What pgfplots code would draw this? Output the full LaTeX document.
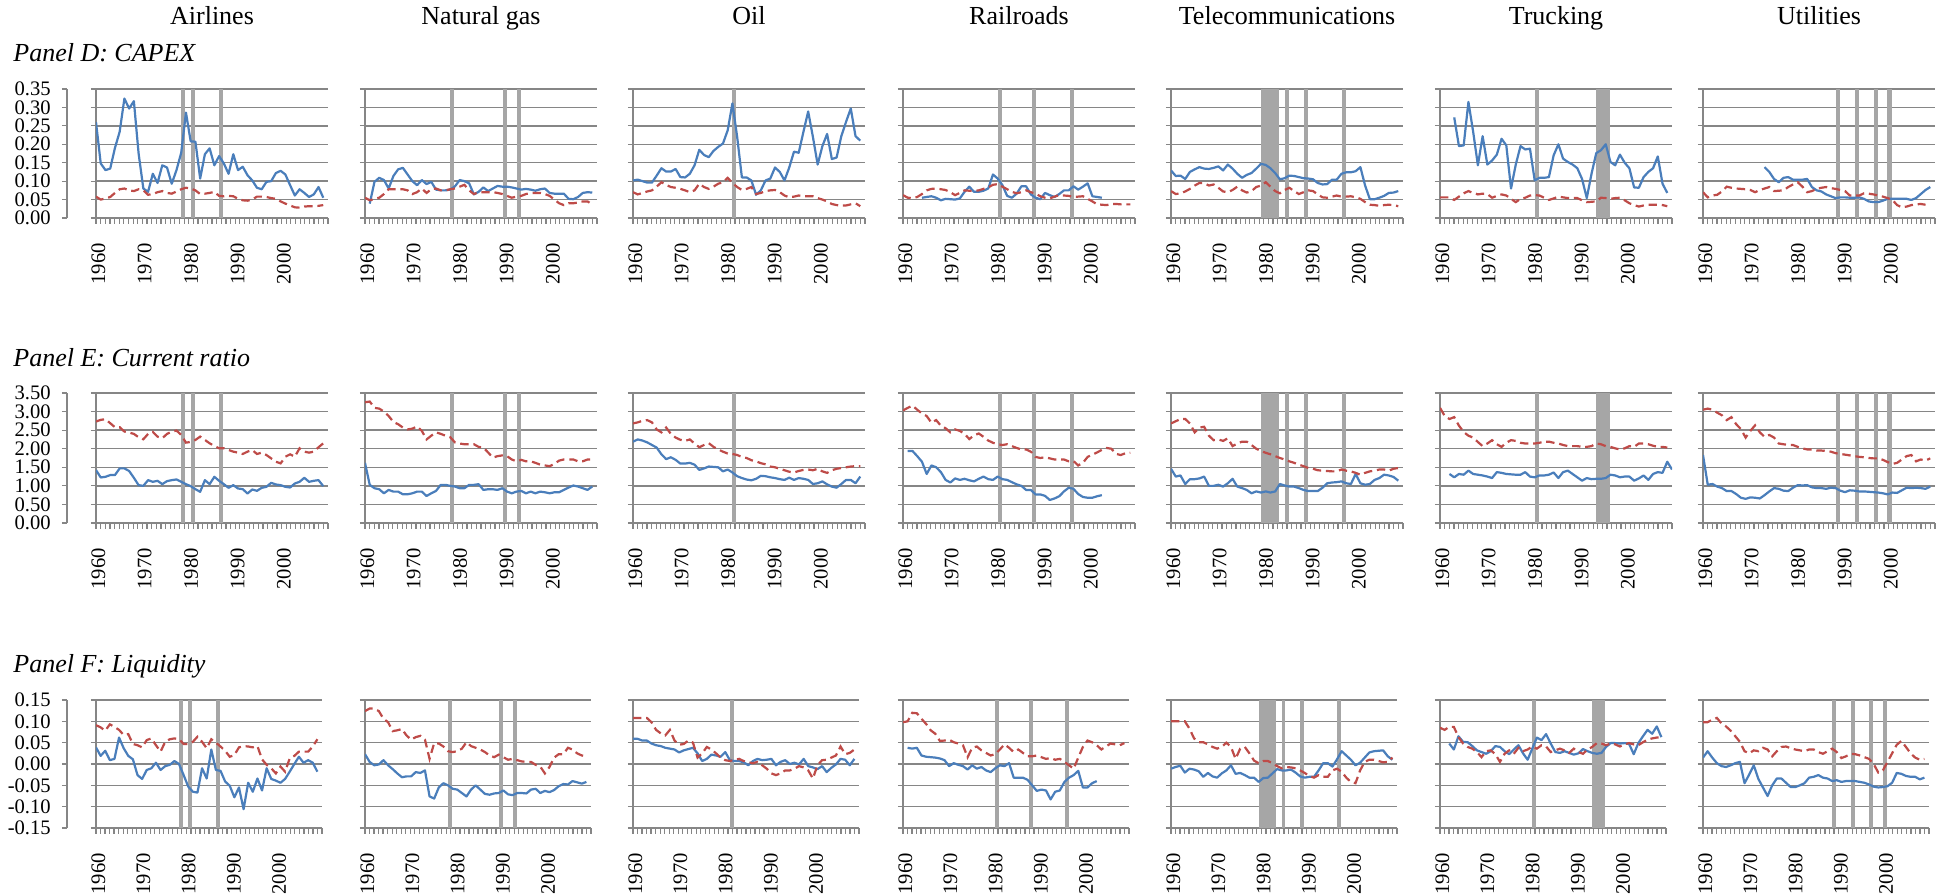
\documentclass[border=0pt]{standalone}
\usepackage{fontspec}
\setmainfont{Liberation Serif}
\usepackage{pgfplots}
\usepackage{pgfplotstable}
\pgfplotsset{compat=1.18}
\definecolor{gridgray}{RGB}{134,134,134}
\definecolor{shadecol}{RGB}{166,166,166}
\definecolor{lineblue}{RGB}{74,126,187}
\definecolor{linered}{RGB}{190,75,72}
\newcommand{\tickfont}{\fontsize{10.3}{12}\selectfont}
\newcommand{\ttlfont}{\fontsize{13}{15}\selectfont}
\newcommand{\ser}[3]{\addplot[#1] table[header=false, x expr=\coordindex+#2, y index=0, row sep=\\]{#3};}
\newcommand{\shd}[4]{\addplot[sh] coordinates {(#1,#3) (#1,#4) (#2,#4) (#2,#3)};}
\pgfplotsset{
 base/.style={
  scale only axis, width=116pt, xmin=1960, xmax=2009, anchor=south west,
  axis x line*=bottom, axis y line*=left,
  axis line style={-, draw=gridgray, line width=0.7pt},
  ymajorgrids, grid style={draw=gridgray, line width=0.7pt},
  xtick={1960.49,1970.29,1980.09,1989.89,1999.69},
  xticklabels={1960,1970,1980,1990,2000},
  minor xtick={1960,1960.98,1961.96,1962.94,1963.92,1964.90,1965.88,1966.86,1967.84,1968.82,1969.80,1970.78,1971.76,1972.74,1973.72,1974.70,1975.68,1976.66,1977.64,1978.62,1979.60,1980.58,1981.56,1982.54,1983.52,1984.50,1985.48,1986.46,1987.44,1988.42,1989.40,1990.38,1991.36,1992.34,1993.32,1994.30,1995.28,1996.26,1997.24,1998.22,1999.20,2000.18,2001.16,2002.14,2003.12,2004.10,2005.08,2006.06,2007.04,2008.02,2009},
  tick align=outside,
  major tick length=2.6pt, minor tick length=2.8pt,
  tick style={draw=gridgray, line width=0.6pt},
  minor tick style={draw=gridgray, line width=0.6pt},
  major x tick style={draw=none},
  xticklabel style={yshift=-6.5pt, rotate=90, anchor=east, font=\tickfont},
  yticklabels={},
 },
 Dax/.style={base, height=64.5pt, ymin=0, ymax=0.35, ytick={0,0.05,0.1,0.15,0.2,0.25,0.3,0.35}},
 Eax/.style={base, height=65pt, ymin=0, ymax=3.5, ytick={0,0.5,1,1.5,2,2.5,3,3.5}},
 Fax/.style={base, width=113pt, height=64pt, ymin=-0.15, ymax=0.15, ytick={-0.15,-0.1,-0.05,0,0.05,0.1,0.15}},
 bl/.style={draw=lineblue, line width=1.1pt, line join=round},
 rd/.style={draw=linered, line width=1.1pt, dash pattern=on 4.2pt off 2.4pt},
 sh/.style={fill=shadecol, draw=none, forget plot},
 lab/.style={scale only axis, width=1pt, xmin=0, xmax=1, anchor=south west, hide x axis, axis y line*=left,
  axis line style={-, draw=gridgray, line width=0.7pt}, tick align=outside, major tick length=2.6pt,
  tick style={draw=gridgray, line width=0.6pt}, yticklabel style={font=\tickfont, xshift=-2pt}},
}
\begin{document}
\begin{tikzpicture}
\useasboundingbox (0,0) rectangle (974pt,447.5pt);
% titles
\foreach \x/\t in {106/Airlines,240.5/Natural gas,374.5/Oil,509.5/Railroads,643.5/Telecommunications,778/Trucking,909.5/Utilities}
  \node[anchor=base, inner sep=0pt, font=\ttlfont] at (\x pt,435pt) {\t};
\node[anchor=base west, inner sep=0pt, font=\ttlfont\itshape] at (6.5pt,416.6pt) {Panel D: CAPEX};
\node[anchor=base west, inner sep=0pt, font=\ttlfont\itshape] at (6.5pt,264.2pt) {Panel E: Current ratio};
\node[anchor=base west, inner sep=0pt, font=\ttlfont\itshape] at (6.5pt,111.4pt) {Panel F: Liquidity};
% label axes
\begin{axis}[lab, at={(33.5pt,338.5pt)}, height=64.5pt, ymin=0, ymax=0.35, ytick={0,0.05,0.1,0.15,0.2,0.25,0.3,0.35}, yticklabels={0.00,0.05,0.10,0.15,0.20,0.25,0.30,0.35}]
\end{axis}
\begin{axis}[lab, at={(33.5pt,186pt)}, height=65pt, ymin=0, ymax=3.5, ytick={0,0.5,1,1.5,2,2.5,3,3.5}, yticklabels={0.00,0.50,1.00,1.50,2.00,2.50,3.00,3.50}]
\end{axis}
\begin{axis}[lab, at={(33.5pt,33.5pt)}, height=64pt, ymin=-0.15, ymax=0.15, ytick={-0.15,-0.1,-0.05,0,0.05,0.1,0.15}, yticklabels={-0.15,-0.10,-0.05,0.00,0.05,0.10,0.15}]
\end{axis}

%================ PANEL D =================
\begin{axis}[Dax, at={(48pt,338.5pt)}]
\shd{1977.93}{1978.85}{0}{0.35}\shd{1979.97}{1980.82}{0}{0.35}\shd{1985.95}{1986.79}{0}{0.35}
\ser{bl}{1960}{0.26\\0.148\\0.13\\0.134\\0.19\\0.234\\0.324\\0.297\\0.317\\0.175\\0.08\\0.071\\0.12\\0.095\\0.143\\0.137\\0.093\\0.13\\0.177\\0.286\\0.208\\0.207\\0.107\\0.173\\0.189\\0.143\\0.168\\0.148\\0.12\\0.173\\0.13\\0.139\\0.116\\0.102\\0.082\\0.078\\0.098\\0.10\\0.122\\0.128\\0.118\\0.089\\0.061\\0.078\\0.068\\0.057\\0.064\\0.084\\0.055\\}
\ser{rd}{1960}{0.058\\0.05\\0.053\\0.057\\0.068\\0.078\\0.08\\0.075\\0.073\\0.078\\0.075\\0.063\\0.065\\0.07\\0.073\\0.068\\0.066\\0.072\\0.078\\0.082\\0.08\\0.075\\0.065\\0.066\\0.068\\0.071\\0.06\\0.059\\0.06\\0.059\\0.052\\0.048\\0.047\\0.05\\0.058\\0.058\\0.057\\0.054\\0.052\\0.045\\0.039\\0.034\\0.029\\0.028\\0.031\\0.032\\0.032\\0.033\\0.035\\}
\end{axis}
\begin{axis}[Dax, at={(182.5pt,338.5pt)}]
\shd{1977.96}{1978.84}{0}{0.35}\shd{1989.05}{1989.93}{0}{0.35}\shd{1992.15}{1993.03}{0}{0.35}
\ser{bl}{1961}{0.039\\0.098\\0.109\\0.103\\0.08\\0.114\\0.132\\0.136\\0.118\\0.10\\0.089\\0.103\\0.092\\0.098\\0.077\\0.075\\0.075\\0.077\\0.086\\0.103\\0.10\\0.094\\0.064\\0.071\\0.083\\0.073\\0.08\\0.087\\0.085\\0.085\\0.083\\0.08\\0.077\\0.079\\0.077\\0.074\\0.078\\0.08\\0.068\\0.066\\0.066\\0.066\\0.052\\0.051\\0.057\\0.068\\0.07\\0.069\\}
\ser{rd}{1960}{0.055\\0.048\\0.052\\0.055\\0.065\\0.078\\0.078\\0.078\\0.078\\0.075\\0.065\\0.07\\0.08\\0.068\\0.078\\0.08\\0.075\\0.075\\0.078\\0.08\\0.085\\0.09\\0.075\\0.065\\0.07\\0.07\\0.07\\0.07\\0.068\\0.065\\0.06\\0.055\\0.058\\0.06\\0.065\\0.068\\0.068\\0.068\\0.065\\0.06\\0.05\\0.04\\0.035\\0.04\\0.04\\0.042\\0.045\\0.045\\0.037\\}
\end{axis}
\begin{axis}[Dax, at={(316.5pt,338.5pt)}]
\shd{1981.0}{1981.84}{0}{0.35}
\ser{bl}{1960}{0.102\\0.104\\0.10\\0.096\\0.096\\0.115\\0.135\\0.126\\0.126\\0.133\\0.111\\0.11\\0.12\\0.143\\0.185\\0.171\\0.165\\0.182\\0.193\\0.202\\0.238\\0.311\\0.22\\0.11\\0.11\\0.102\\0.063\\0.075\\0.102\\0.107\\0.137\\0.125\\0.102\\0.137\\0.18\\0.177\\0.234\\0.289\\0.22\\0.145\\0.195\\0.228\\0.16\\0.164\\0.222\\0.261\\0.297\\0.222\\0.21\\}
\ser{rd}{1960}{0.070\\0.064\\0.068\\0.072\\0.075\\0.085\\0.097\\0.09\\0.084\\0.082\\0.079\\0.075\\0.07\\0.075\\0.093\\0.084\\0.079\\0.085\\0.093\\0.097\\0.109\\0.095\\0.084\\0.076\\0.079\\0.084\\0.065\\0.068\\0.073\\0.075\\0.076\\0.07\\0.061\\0.056\\0.058\\0.061\\0.059\\0.059\\0.059\\0.054\\0.05\\0.045\\0.038\\0.035\\0.034\\0.034\\0.037\\0.04\\0.032\\}
\end{axis}
\begin{axis}[Dax, at={(451.5pt,338.5pt)}]
\shd{1980.02}{1980.9}{0}{0.35}\shd{1987.21}{1988.09}{0}{0.35}\shd{1995.18}{1996.06}{0}{0.35}
\ser{bl}{1964}{0.055\\0.057\\0.059\\0.055\\0.048\\0.052\\0.051\\0.05\\0.053\\0.071\\0.085\\0.071\\0.071\\0.074\\0.08\\0.118\\0.107\\0.089\\0.06\\0.055\\0.066\\0.086\\0.086\\0.064\\0.055\\0.051\\0.068\\0.062\\0.057\\0.065\\0.075\\0.075\\0.086\\0.077\\0.085\\0.094\\0.059\\0.057\\0.055\\}
\ser{rd}{1960}{0.062\\0.055\\0.054\\0.057\\0.065\\0.075\\0.079\\0.08\\0.078\\0.076\\0.07\\0.062\\0.068\\0.075\\0.074\\0.073\\0.075\\0.079\\0.083\\0.09\\0.092\\0.085\\0.078\\0.071\\0.067\\0.07\\0.075\\0.07\\0.066\\0.059\\0.055\\0.053\\0.058\\0.062\\0.061\\0.06\\0.057\\0.058\\0.059\\0.052\\0.045\\0.037\\0.036\\0.035\\0.038\\0.038\\0.037\\0.037\\0.037\\}
\end{axis}
\begin{axis}[Dax, at={(585.5pt,338.5pt)}]
\shd{1978.99}{1982.86}{0}{0.35}\shd{1984.05}{1984.82}{0}{0.35}\shd{1988.06}{1988.83}{0}{0.35}\shd{1996.08}{1996.92}{0}{0.35}
\ser{bl}{1960}{0.129\\0.114\\0.115\\0.106\\0.125\\0.132\\0.138\\0.134\\0.133\\0.136\\0.14\\0.129\\0.145\\0.134\\0.12\\0.109\\0.117\\0.122\\0.134\\0.147\\0.144\\0.135\\0.122\\0.105\\0.108\\0.115\\0.114\\0.111\\0.108\\0.107\\0.105\\0.095\\0.091\\0.092\\0.104\\0.104\\0.12\\0.124\\0.124\\0.127\\0.138\\0.088\\0.051\\0.051\\0.055\\0.06\\0.068\\0.069\\0.073\\}
\ser{rd}{1960}{0.073\\0.065\\0.067\\0.072\\0.079\\0.088\\0.095\\0.095\\0.088\\0.091\\0.082\\0.072\\0.07\\0.076\\0.085\\0.075\\0.069\\0.073\\0.084\\0.088\\0.097\\0.085\\0.073\\0.067\\0.076\\0.082\\0.073\\0.065\\0.07\\0.075\\0.073\\0.064\\0.056\\0.055\\0.058\\0.061\\0.058\\0.058\\0.059\\0.056\\0.052\\0.043\\0.036\\0.035\\0.033\\0.035\\0.036\\0.035\\0.032\\}
\end{axis}
\begin{axis}[Dax, at={(720pt,338.5pt)}]
\shd{1979.97}{1980.89}{0}{0.35}\shd{1993.05}{1995.87}{0}{0.35}
\ser{bl}{1963}{0.273\\0.195\\0.197\\0.315\\0.234\\0.143\\0.222\\0.145\\0.156\\0.172\\0.215\\0.197\\0.08\\0.145\\0.195\\0.186\\0.188\\0.102\\0.109\\0.109\\0.111\\0.17\\0.2\\0.161\\0.152\\0.145\\0.135\\0.106\\0.054\\0.12\\0.176\\0.184\\0.2\\0.152\\0.143\\0.172\\0.15\\0.135\\0.083\\0.082\\0.111\\0.125\\0.135\\0.167\\0.093\\0.068\\}
\ser{rd}{1960}{0.056\\0.056\\0.056\\0.049\\0.058\\0.067\\0.073\\0.068\\0.064\\0.066\\0.065\\0.055\\0.06\\0.064\\0.061\\0.052\\0.043\\0.052\\0.055\\0.061\\0.062\\0.061\\0.055\\0.049\\0.053\\0.058\\0.056\\0.054\\0.054\\0.054\\0.048\\0.043\\0.044\\0.045\\0.055\\0.054\\0.052\\0.054\\0.055\\0.048\\0.04\\0.035\\0.031\\0.034\\0.036\\0.036\\0.036\\0.035\\0.032\\}
\end{axis}
\begin{axis}[Dax, at={(851.5pt,338.5pt)}]
\shd{1988.03}{1988.94}{0}{0.35}\shd{1992.1}{1992.94}{0}{0.35}\shd{1996.02}{1996.93}{0}{0.35}\shd{1998.96}{1999.87}{0}{0.35}
\ser{bl}{1973}{0.138\\0.125\\0.106\\0.097\\0.109\\0.111\\0.104\\0.104\\0.104\\0.106\\0.084\\0.075\\0.072\\0.064\\0.059\\0.054\\0.056\\0.056\\0.055\\0.055\\0.056\\0.052\\0.045\\0.043\\0.043\\0.047\\0.052\\0.052\\0.052\\0.052\\0.052\\0.049\\0.054\\0.065\\0.076\\0.084\\}
\ser{rd}{1960}{0.07\\0.056\\0.061\\0.063\\0.072\\0.085\\0.082\\0.08\\0.079\\0.078\\0.076\\0.07\\0.076\\0.08\\0.084\\0.073\\0.074\\0.075\\0.084\\0.091\\0.097\\0.085\\0.07\\0.073\\0.079\\0.082\\0.084\\0.081\\0.079\\0.076\\0.073\\0.061\\0.061\\0.061\\0.067\\0.066\\0.064\\0.061\\0.058\\0.054\\0.049\\0.035\\0.029\\0.031\\0.035\\0.037\\0.038\\0.036\\}
\end{axis}

%================ PANEL E =================
\begin{axis}[Eax, at={(48pt,186pt)}]
\shd{1977.93}{1978.85}{0}{3.5}\shd{1979.97}{1980.82}{0}{3.5}\shd{1985.95}{1986.79}{0}{3.5}
\ser{bl}{1960}{1.425\\1.226\\1.244\\1.29\\1.29\\1.47\\1.47\\1.40\\1.217\\1.019\\1.00\\1.154\\1.109\\1.136\\1.046\\1.127\\1.154\\1.172\\1.109\\1.046\\0.992\\0.911\\0.839\\1.154\\1.046\\1.244\\1.136\\1.046\\0.947\\1.019\\0.929\\0.911\\0.794\\0.902\\0.866\\0.947\\0.974\\1.082\\1.037\\1.019\\0.974\\0.956\\1.064\\1.109\\1.217\\1.109\\1.136\\1.154\\0.992\\}
\ser{rd}{1960}{2.732\\2.777\\2.795\\2.687\\2.579\\2.579\\2.462\\2.435\\2.399\\2.308\\2.254\\2.399\\2.453\\2.326\\2.281\\2.399\\2.462\\2.489\\2.372\\2.164\\2.182\\2.236\\2.326\\2.236\\2.146\\2.074\\2.011\\2.011\\1.966\\1.921\\1.894\\1.858\\1.921\\1.966\\1.858\\1.894\\1.83\\1.74\\1.65\\1.605\\1.785\\1.849\\1.785\\2.011\\1.921\\1.894\\1.921\\2.038\\2.146\\}
\end{axis}
\begin{axis}[Eax, at={(182.5pt,186pt)}]
\shd{1977.96}{1978.84}{0}{3.5}\shd{1989.05}{1989.93}{0}{3.5}\shd{1992.15}{1993.03}{0}{3.5}
\ser{bl}{1960}{1.618\\1.027\\0.936\\0.909\\0.80\\0.891\\0.845\\0.845\\0.773\\0.773\\0.80\\0.845\\0.845\\0.727\\0.80\\0.864\\1.027\\1.027\\1.00\\0.982\\0.936\\0.936\\1.027\\1.027\\1.045\\0.891\\0.909\\0.909\\0.891\\0.936\\0.845\\0.80\\0.845\\0.864\\0.80\\0.845\\0.80\\0.845\\0.827\\0.80\\0.827\\0.827\\0.891\\0.955\\1.009\\0.982\\0.936\\0.891\\0.982\\}
\ser{rd}{1960}{3.25\\3.27\\3.10\\3.08\\3.00\\2.88\\2.72\\2.66\\2.57\\2.52\\2.54\\2.60\\2.48\\2.25\\2.35\\2.44\\2.40\\2.35\\2.31\\2.17\\2.14\\2.12\\2.12\\2.12\\2.05\\2.03\\1.90\\1.76\\1.80\\1.82\\1.80\\1.71\\1.66\\1.70\\1.66\\1.66\\1.62\\1.57\\1.55\\1.53\\1.59\\1.68\\1.71\\1.71\\1.71\\1.66\\1.66\\1.71\\1.71\\}
\end{axis}
\begin{axis}[Eax, at={(316.5pt,186pt)}]
\shd{1981.0}{1981.84}{0}{3.5}
\ser{bl}{1960}{2.19\\2.25\\2.22\\2.17\\2.10\\2.03\\1.85\\1.72\\1.77\\1.70\\1.60\\1.60\\1.62\\1.57\\1.43\\1.47\\1.52\\1.51\\1.50\\1.39\\1.44\\1.36\\1.26\\1.21\\1.17\\1.15\\1.19\\1.27\\1.26\\1.23\\1.21\\1.18\\1.16\\1.22\\1.16\\1.21\\1.19\\1.16\\1.05\\1.07\\1.12\\1.04\\0.98\\0.95\\1.05\\1.16\\1.16\\1.07\\1.25\\}
\ser{rd}{1960}{2.68\\2.71\\2.75\\2.77\\2.71\\2.52\\2.44\\2.57\\2.40\\2.30\\2.24\\2.21\\2.25\\2.14\\2.04\\2.10\\2.15\\2.05\\1.98\\1.92\\1.87\\1.86\\1.83\\1.78\\1.75\\1.69\\1.66\\1.61\\1.58\\1.52\\1.50\\1.46\\1.42\\1.38\\1.36\\1.40\\1.43\\1.44\\1.42\\1.46\\1.39\\1.35\\1.42\\1.46\\1.48\\1.50\\1.52\\1.53\\1.53\\}
\end{axis}
\begin{axis}[Eax, at={(451.5pt,186pt)}]
\shd{1980.02}{1980.9}{0}{3.5}\shd{1987.21}{1988.09}{0}{3.5}\shd{1995.18}{1996.06}{0}{3.5}
\ser{bl}{1961}{1.94\\1.94\\1.80\\1.65\\1.32\\1.55\\1.50\\1.37\\1.16\\1.09\\1.20\\1.16\\1.19\\1.15\\1.12\\1.19\\1.25\\1.18\\1.16\\1.25\\1.18\\1.16\\1.10\\1.04\\1.00\\0.89\\0.89\\0.77\\0.77\\0.73\\0.62\\0.66\\0.72\\0.85\\0.95\\0.92\\0.78\\0.70\\0.68\\0.68\\0.72\\0.75\\}
\ser{rd}{1960}{3.03\\3.10\\3.16\\3.05\\2.95\\2.88\\2.70\\2.77\\2.62\\2.55\\2.44\\2.52\\2.48\\2.40\\2.26\\2.36\\2.41\\2.32\\2.22\\2.16\\2.12\\2.10\\2.12\\2.07\\2.02\\1.98\\1.98\\1.92\\1.78\\1.75\\1.77\\1.74\\1.71\\1.71\\1.71\\1.66\\1.67\\1.55\\1.62\\1.78\\1.84\\1.90\\1.97\\2.02\\2.00\\1.86\\1.83\\1.88\\1.89\\}
\end{axis}
\begin{axis}[Eax, at={(585.5pt,186pt)}]
\shd{1978.99}{1982.86}{0}{3.5}\shd{1984.05}{1984.82}{0}{3.5}\shd{1988.06}{1988.83}{0}{3.5}\shd{1996.08}{1996.92}{0}{3.5}
\ser{bl}{1960}{1.46\\1.25\\1.28\\1.05\\1.18\\1.18\\1.20\\1.25\\1.00\\1.00\\1.03\\0.98\\1.07\\1.19\\0.98\\0.94\\0.89\\0.80\\0.85\\0.82\\0.85\\0.82\\0.85\\1.05\\1.01\\0.98\\0.98\\0.94\\0.89\\0.86\\0.86\\0.86\\0.95\\1.07\\1.09\\1.10\\1.12\\1.07\\1.05\\1.32\\1.07\\1.03\\1.05\\1.16\\1.21\\1.30\\1.28\\1.24\\1.14\\}
\ser{rd}{1960}{2.68\\2.74\\2.80\\2.80\\2.68\\2.44\\2.57\\2.59\\2.35\\2.23\\2.25\\2.21\\2.28\\2.07\\2.14\\2.19\\2.19\\2.10\\2.00\\1.94\\1.89\\1.85\\1.80\\1.75\\1.71\\1.66\\1.62\\1.57\\1.53\\1.48\\1.46\\1.42\\1.41\\1.40\\1.39\\1.39\\1.44\\1.41\\1.39\\1.35\\1.30\\1.35\\1.39\\1.41\\1.44\\1.44\\1.41\\1.46\\1.48\\}
\end{axis}
\begin{axis}[Eax, at={(720pt,186pt)}]
\shd{1979.97}{1980.89}{0}{3.5}\shd{1993.05}{1995.87}{0}{3.5}
\ser{bl}{1962}{1.32\\1.23\\1.32\\1.30\\1.41\\1.32\\1.30\\1.28\\1.25\\1.21\\1.37\\1.35\\1.32\\1.31\\1.30\\1.30\\1.37\\1.25\\1.23\\1.28\\1.28\\1.30\\1.36\\1.21\\1.37\\1.41\\1.32\\1.23\\1.14\\1.21\\1.18\\1.19\\1.19\\1.21\\1.30\\1.28\\1.23\\1.25\\1.25\\1.14\\1.20\\1.28\\1.16\\1.32\\1.37\\1.35\\1.65\\1.44\\}
\ser{rd}{1960}{3.10\\2.88\\2.80\\2.85\\2.62\\2.45\\2.35\\2.30\\2.18\\2.07\\2.14\\2.23\\2.12\\2.05\\2.16\\2.23\\2.21\\2.16\\2.14\\2.14\\2.14\\2.16\\2.19\\2.19\\2.16\\2.14\\2.10\\2.07\\2.07\\2.07\\2.05\\2.05\\2.07\\2.14\\2.12\\2.07\\2.05\\2.01\\1.98\\2.01\\2.07\\2.05\\2.14\\2.14\\2.12\\2.08\\2.05\\2.05\\2.03\\}
\end{axis}
\begin{axis}[Eax, at={(851.5pt,186pt)}]
\shd{1988.03}{1988.94}{0}{3.5}\shd{1992.1}{1992.94}{0}{3.5}\shd{1996.02}{1996.93}{0}{3.5}\shd{1998.96}{1999.87}{0}{3.5}
\ser{bl}{1960}{1.83\\1.03\\1.05\\0.98\\0.94\\0.86\\0.86\\0.78\\0.68\\0.65\\0.69\\0.68\\0.66\\0.75\\0.85\\0.94\\0.92\\0.87\\0.86\\0.95\\1.02\\1.01\\1.02\\0.96\\0.94\\0.94\\0.92\\0.95\\0.94\\0.87\\0.83\\0.88\\0.87\\0.85\\0.85\\0.84\\0.83\\0.82\\0.80\\0.77\\0.82\\0.81\\0.88\\0.95\\0.94\\0.95\\0.94\\0.92\\0.98\\}
\ser{rd}{1960}{3.05\\3.08\\3.05\\2.97\\2.90\\2.77\\2.85\\2.66\\2.53\\2.30\\2.48\\2.63\\2.44\\2.32\\2.37\\2.30\\2.14\\2.12\\2.10\\2.10\\2.05\\2.01\\1.98\\1.98\\1.95\\1.95\\1.94\\1.92\\1.88\\1.86\\1.84\\1.82\\1.80\\1.78\\1.77\\1.75\\1.74\\1.74\\1.70\\1.64\\1.59\\1.62\\1.71\\1.80\\1.83\\1.66\\1.71\\1.68\\1.74\\}
\end{axis}

%================ PANEL F =================
\begin{axis}[Fax, at={(48pt,33.5pt)}]
\shd{1977.93}{1978.85}{-0.15}{0.15}\shd{1979.97}{1980.82}{-0.15}{0.15}\shd{1985.95}{1986.79}{-0.15}{0.15}
\ser{bl}{1960}{0.039\\0.019\\0.031\\0.009\\0.012\\0.062\\0.037\\0.019\\0.011\\-0.026\\-0.035\\-0.014\\-0.01\\0.003\\-0.014\\-0.005\\-0.002\\0.007\\0.0\\-0.026\\-0.053\\-0.065\\-0.067\\-0.01\\-0.034\\0.034\\-0.014\\-0.016\\-0.041\\-0.051\\-0.078\\-0.055\\-0.106\\-0.044\\-0.065\\-0.034\\-0.062\\-0.01\\-0.035\\-0.039\\-0.044\\-0.035\\-0.018\\0.0\\0.017\\0.003\\0.009\\0.003\\-0.018\\}
\ser{rd}{1960}{0.091\\0.086\\0.078\\0.093\\0.087\\0.08\\0.068\\0.07\\0.047\\0.044\\0.039\\0.056\\0.06\\0.044\\0.029\\0.052\\0.058\\0.06\\0.058\\0.047\\0.047\\0.052\\0.064\\0.052\\0.037\\0.058\\0.05\\0.041\\0.031\\0.017\\0.021\\0.039\\0.042\\0.041\\0.039\\0.042\\0.011\\-0.002\\-0.01\\-0.022\\-0.006\\-0.018\\0.013\\0.019\\0.029\\0.029\\0.029\\0.041\\0.058\\}
\end{axis}
\begin{axis}[Fax, at={(182.5pt,33.5pt)}]
\shd{1977.96}{1978.84}{-0.15}{0.15}\shd{1989.05}{1989.93}{-0.15}{0.15}\shd{1992.15}{1993.03}{-0.15}{0.15}
\ser{bl}{1960}{0.023\\0.005\\-0.003\\-0.001\\0.009\\-0.003\\-0.012\\-0.022\\-0.031\\-0.029\\-0.029\\-0.019\\-0.021\\-0.015\\-0.076\\-0.081\\-0.055\\-0.045\\-0.050\\-0.058\\-0.060\\-0.068\\-0.076\\-0.060\\-0.050\\-0.060\\-0.070\\-0.072\\-0.069\\-0.068\\-0.062\\-0.071\\-0.073\\-0.068\\-0.068\\-0.069\\-0.060\\-0.058\\-0.068\\-0.063\\-0.066\\-0.061\\-0.052\\-0.047\\-0.048\\-0.040\\-0.043\\-0.046\\-0.042\\}
\ser{rd}{1960}{0.124\\0.130\\0.130\\0.124\\0.106\\0.098\\0.077\\0.079\\0.082\\0.067\\0.057\\0.063\\0.066\\0.057\\0.012\\0.049\\0.048\\0.041\\0.030\\0.028\\0.030\\0.036\\0.051\\0.042\\0.038\\0.034\\0.028\\0.020\\0.016\\0.022\\0.016\\0.010\\0.012\\0.009\\0.006\\0.005\\0.005\\-0.002\\-0.006\\-0.022\\-0.007\\0.015\\0.023\\0.023\\0.038\\0.034\\0.025\\0.020\\0.018\\}
\end{axis}
\begin{axis}[Fax, at={(316.5pt,33.5pt)}]
\shd{1981.0}{1981.84}{-0.15}{0.15}
\ser{bl}{1960}{0.059\\0.059\\0.055\\0.055\\0.048\\0.044\\0.042\\0.038\\0.036\\0.034\\0.027\\0.032\\0.035\\0.038\\0.025\\0.007\\0.012\\0.022\\0.020\\0.017\\0.028\\0.009\\0.007\\0.007\\0.004\\-0.003\\0.007\\0.012\\0.009\\0.010\\0.012\\-0.003\\0.005\\0.009\\0.000\\0.003\\-0.001\\0.012\\-0.005\\-0.008\\-0.012\\-0.005\\-0.019\\-0.009\\-0.001\\0.012\\0.010\\-0.003\\0.012\\}
\ser{rd}{1960}{0.108\\0.108\\0.108\\0.108\\0.098\\0.080\\0.072\\0.067\\0.080\\0.055\\0.045\\0.047\\0.055\\0.050\\0.015\\0.025\\0.040\\0.034\\0.025\\0.015\\0.009\\0.007\\0.010\\0.012\\0.007\\0.004\\0.002\\0.005\\-0.003\\-0.011\\-0.022\\-0.026\\-0.022\\-0.015\\-0.015\\-0.011\\-0.005\\-0.008\\-0.015\\-0.034\\-0.003\\0.009\\0.010\\0.015\\0.020\\0.041\\0.023\\0.026\\0.034\\}
\end{axis}
\begin{axis}[Fax, at={(451.5pt,33.5pt)}]
\shd{1980.02}{1980.9}{-0.15}{0.15}\shd{1987.21}{1988.09}{-0.15}{0.15}\shd{1995.18}{1996.06}{-0.15}{0.15}
\ser{bl}{1961}{0.038\\0.036\\0.038\\0.020\\0.017\\0.016\\0.015\\0.013\\0.009\\-0.005\\0.002\\-0.002\\-0.005\\-0.013\\-0.003\\-0.011\\-0.007\\-0.015\\-0.019\\-0.010\\-0.003\\-0.005\\0.002\\-0.032\\-0.032\\-0.032\\-0.037\\-0.050\\-0.063\\-0.060\\-0.062\\-0.083\\-0.065\\-0.062\\-0.042\\-0.032\\-0.026\\-0.016\\-0.055\\-0.055\\-0.045\\-0.040\\}
\ser{rd}{1960}{0.098\\0.100\\0.120\\0.119\\0.106\\0.094\\0.079\\0.071\\0.054\\0.055\\0.057\\0.051\\0.048\\0.044\\0.016\\0.038\\0.041\\0.032\\0.026\\0.020\\0.023\\0.034\\0.046\\0.038\\0.028\\0.034\\0.026\\0.018\\0.018\\0.020\\0.016\\0.012\\0.014\\0.010\\0.012\\0.005\\-0.003\\-0.011\\0.015\\0.040\\0.055\\0.051\\0.044\\0.034\\0.041\\0.048\\0.046\\0.044\\0.049\\}
\end{axis}
\begin{axis}[Fax, at={(585.5pt,33.5pt)}]
\shd{1978.99}{1982.86}{-0.15}{0.15}\shd{1984.05}{1984.82}{-0.15}{0.15}\shd{1988.06}{1988.83}{-0.15}{0.15}\shd{1996.08}{1996.92}{-0.15}{0.15}
\ser{bl}{1960}{-0.011\\-0.007\\-0.004\\-0.020\\-0.011\\-0.013\\-0.017\\-0.030\\-0.021\\-0.029\\-0.032\\-0.022\\-0.015\\-0.003\\-0.023\\-0.021\\-0.026\\-0.032\\-0.032\\-0.042\\-0.033\\-0.032\\-0.022\\-0.012\\-0.015\\-0.015\\-0.013\\-0.020\\-0.029\\-0.032\\-0.030\\-0.030\\-0.015\\0.002\\0.002\\-0.006\\0.011\\0.030\\0.020\\0.010\\-0.003\\0.003\\0.015\\0.027\\0.030\\0.031\\0.032\\0.018\\0.010\\}
\ser{rd}{1960}{0.100\\0.100\\0.100\\0.100\\0.083\\0.060\\0.051\\0.051\\0.046\\0.040\\0.036\\0.040\\0.050\\0.040\\0.012\\0.036\\0.040\\0.025\\0.008\\0.002\\0.007\\0.007\\0.002\\-0.005\\-0.010\\-0.007\\-0.008\\-0.010\\-0.015\\-0.021\\-0.028\\-0.032\\-0.026\\-0.030\\-0.030\\-0.015\\-0.011\\-0.018\\-0.032\\-0.042\\-0.045\\-0.015\\0.005\\0.010\\0.010\\0.007\\0.004\\0.005\\0.015\\}
\end{axis}
\begin{axis}[Fax, at={(720pt,33.5pt)}]
\shd{1979.97}{1980.89}{-0.15}{0.15}\shd{1993.05}{1995.87}{-0.15}{0.15}
\ser{bl}{1962}{0.048\\0.034\\0.065\\0.052\\0.051\\0.042\\0.032\\0.028\\0.024\\0.030\\0.042\\0.040\\0.030\\0.023\\0.034\\0.044\\0.025\\0.010\\0.036\\0.062\\0.056\\0.070\\0.048\\0.028\\0.026\\0.030\\0.026\\0.022\\0.025\\0.035\\0.030\\0.026\\0.024\\0.026\\0.040\\0.049\\0.049\\0.048\\0.049\\0.047\\0.023\\0.049\\0.065\\0.080\\0.071\\0.088\\0.063\\}
\ser{rd}{1960}{0.085\\0.080\\0.087\\0.087\\0.063\\0.048\\0.040\\0.036\\0.028\\0.016\\0.030\\0.032\\0.023\\0.005\\0.024\\0.032\\0.024\\0.038\\0.030\\0.034\\0.041\\0.036\\0.044\\0.041\\0.028\\0.032\\0.036\\0.032\\0.026\\0.036\\0.028\\0.024\\0.034\\0.040\\0.049\\0.048\\0.044\\0.048\\0.046\\0.041\\0.046\\0.049\\0.046\\0.044\\0.051\\0.057\\0.060\\0.062\\0.062\\}
\end{axis}
\begin{axis}[Fax, at={(851.5pt,33.5pt)}]
\shd{1988.03}{1988.94}{-0.15}{0.15}\shd{1992.1}{1992.94}{-0.15}{0.15}\shd{1996.02}{1996.93}{-0.15}{0.15}\shd{1998.96}{1999.87}{-0.15}{0.15}
\ser{bl}{1960}{0.015\\0.030\\0.015\\0.002\\-0.005\\-0.007\\-0.003\\0.002\\0.005\\-0.045\\-0.025\\-0.003\\-0.035\\-0.055\\-0.075\\-0.050\\-0.034\\-0.034\\-0.044\\-0.054\\-0.054\\-0.050\\-0.045\\-0.032\\-0.030\\-0.026\\-0.032\\-0.034\\-0.040\\-0.038\\-0.042\\-0.040\\-0.040\\-0.040\\-0.042\\-0.044\\-0.048\\-0.053\\-0.055\\-0.054\\-0.052\\-0.044\\-0.021\\-0.023\\-0.028\\-0.030\\-0.030\\-0.036\\-0.032\\}
\ser{rd}{1960}{0.098\\0.098\\0.104\\0.108\\0.095\\0.088\\0.078\\0.065\\0.052\\0.030\\0.025\\0.032\\0.030\\0.038\\0.034\\0.018\\0.030\\0.040\\0.041\\0.037\\0.034\\0.032\\0.030\\0.034\\0.034\\0.028\\0.024\\0.030\\0.036\\0.028\\0.014\\0.018\\0.024\\0.023\\0.020\\0.016\\0.012\\0.000\\-0.020\\-0.015\\0.005\\0.025\\0.045\\0.054\\0.040\\0.025\\0.015\\0.010\\0.012\\}
\end{axis}
\end{tikzpicture}
\end{document}
